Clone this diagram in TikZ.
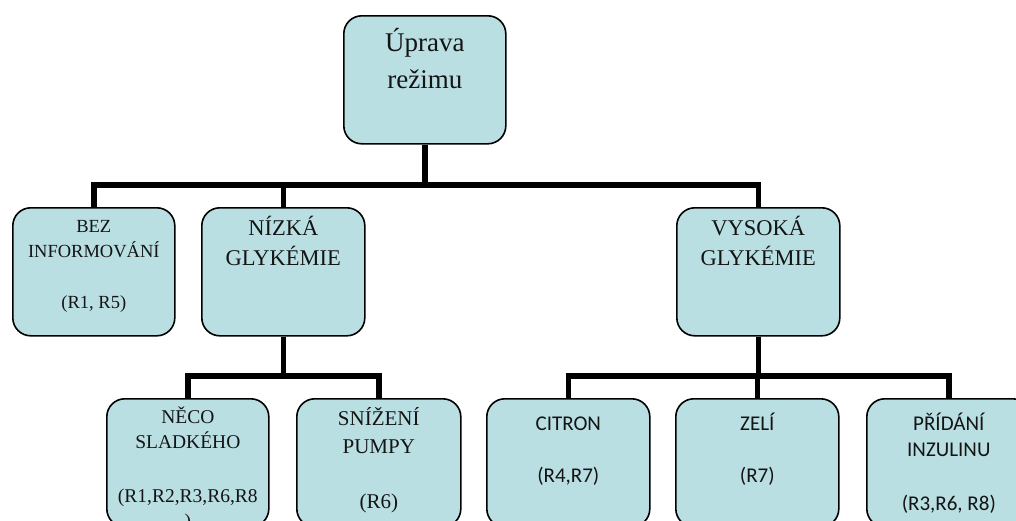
\documentclass[tikz,border=0pt]{standalone}
\usepackage{fontspec}
\setmainfont{Liberation Serif}
\newfontfamily\calfont{Carlito}
\newcommand\myfs[1]{\fontsize{#1}{1.2\dimexpr#1pt\relax}\selectfont}
\definecolor{boxfill}{RGB}{186,223,227}
\definecolor{txtcol}{RGB}{20,20,20}
\tikzset{
  orgbox/.style={draw=black, line width=1.6pt, fill=boxfill, rounded corners=18pt,
    minimum height=128pt, inner sep=0pt, anchor=north west},
  conn/.style={draw=black, line width=5.5pt, line join=miter},
  tl/.style={anchor=base, inner sep=0pt, text=txtcol},
}
\begin{document}
\begin{tikzpicture}[x=1pt,y=-1pt]
\useasboundingbox (0,0) rectangle (1016,520);
\begin{scope}
\clip (0,0) rectangle (1016,520);
% boxes
\node[orgbox, minimum width=162pt] (top) at (343,15) {};
\node[orgbox, minimum width=162pt] (bez) at (12,207) {};
\node[orgbox, minimum width=163pt] (nizka) at (201,207) {};
\node[orgbox, minimum width=163pt] (vysoka) at (676,207) {};
\node[orgbox, minimum width=162pt] (neco) at (106,398) {};
\node[orgbox, minimum width=164pt] (snizeni) at (296,398) {};
\node[orgbox, minimum width=163pt] (citron) at (486,398) {};
\node[orgbox, minimum width=163pt] (zeli) at (675,398) {};
\node[orgbox, minimum width=164pt] (pridani) at (866,398) {};
% connectors
\coordinate (bar1) at (0,185);
\coordinate (bar2) at (0,376);
\draw[conn] (top.south) -- (top.south |- bar1) -| (bez.north);
\draw[conn] (top.south) -- (top.south |- bar1) -| (nizka.north);
\draw[conn] (top.south) -- (top.south |- bar1) -| (vysoka.north);
\draw[conn] (nizka.south) -- (nizka.south |- bar2) -| (neco.north);
\draw[conn] (nizka.south) -- (nizka.south |- bar2) -| (snizeni.north);
\draw[conn] (vysoka.south) -- (vysoka.south |- bar2) -| (citron.north);
\draw[conn] (vysoka.south) -- (vysoka.south |- bar2) -| (zeli.north);
\draw[conn] (vysoka.south) -- (vysoka.south |- bar2) -| (pridani.north);
% texts
\node[tl, font=\myfs{27}] (t1) at (top.north |- 0,51) {Úprava};
\node[tl, font=\myfs{27}] (t2) at (top.north |- 0,88) {režimu};
\node[tl, font=\myfs{18.5}] (b1) at (bez.north |- 0,232) {BEZ};
\node[tl, font=\myfs{18.5}] (b2) at (bez.north |- 0,257) {INFORMOVÁNÍ};
\node[tl, font=\myfs{18.5}] (b3) at (bez.north |- 0,308) {(R1, R5)};
\node[tl, font=\myfs{22.5}] (n1) at (nizka.north |- 0,235) {NÍZKÁ};
\node[tl, font=\myfs{22.5}] (n2) at (nizka.north |- 0,265) {GLYKÉMIE};
\node[tl, font=\myfs{22.5}] (v1) at (vysoka.north |- 0,235) {VYSOKÁ};
\node[tl, font=\myfs{22.5}] (v2) at (vysoka.north |- 0,265) {GLYKÉMIE};
\node[tl, font=\myfs{19.5}] (c1) at (neco.north |- 0,423) {NĚCO};
\node[tl, font=\myfs{19.5}] (c2) at (neco.north |- 0,448) {SLADKÉHO};
\node[tl, font=\myfs{19.5}] (c3) at (neco.north |- 0,502) {(R1,R2,R3,R6,R8};
\node[tl, font=\myfs{19.5}] (c4) at (neco.north |- 0,527) {)};
\node[tl, font=\myfs{21}] (s1) at (snizeni.north |- 0,425) {SNÍŽENÍ};
\node[tl, font=\myfs{21}] (s2) at (snizeni.north |- 0,453) {PUMPY};
\node[tl, font=\myfs{21}] (s3) at (snizeni.north |- 0,508) {(R6)};
\node[tl, font=\calfont\myfs{21}] (ci1) at (citron.north |- 0,430) {CITRON};
\node[tl, font=\calfont\myfs{21}] (ci2) at (citron.north |- 0,482) {(R4,R7)};
\node[tl, font=\calfont\myfs{21}] (z1) at (zeli.north |- 0,430) {ZELÍ};
\node[tl, font=\calfont\myfs{21}] (z2) at (zeli.north |- 0,482) {(R7)};
\node[tl, font=\calfont\myfs{21}] (p1) at (pridani.north |- 0,430) {PŘÍDÁNÍ};
\node[tl, font=\calfont\myfs{21}] (p2) at (pridani.north |- 0,456) {INZULINU};
\node[tl, font=\calfont\myfs{21}] (p3) at (pridani.north |- 0,510) {(R3,R6, R8)};
\end{scope}
\end{tikzpicture}
\end{document}
